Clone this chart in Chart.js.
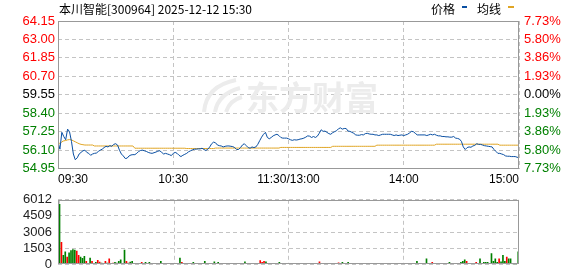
<!DOCTYPE html>
<html>
<head>
<meta charset="utf-8">
<script src="https://cdn.jsdelivr.net/npm/chart.js"></script>
<style>
  html, body { margin: 0; padding: 0; background: #fff; overflow: hidden; }
  #wrap { position: relative; width: 578px; height: 276px; }
  canvas { position: absolute; left: 0; }
</style>
</head>
<body>
<div id="wrap">
  <canvas id="priceChart" width="578" height="191" style="top:0"></canvas>
  <canvas id="volChart" width="578" height="92" style="top:186px"></canvas>
</div>
<script>
const stockTitle = "本川智能[300964] 2025-12-12 15:30";

// minute ticks on the time axis (0 = 09:30, 240 = 15:00)
const timeTicks = [0, 60, 120, 180, 240];
const timeLabels = ["09:30", "10:30", "11:30/13:00", "14:00", "15:00"];

const priceTicks = [54.95, 56.10, 57.25, 58.40, 59.55, 60.70, 61.85, 63.00, 64.15];
const pctLabels = ["7.73%", "5.80%", "3.86%", "1.93%", "0.00%", "1.93%", "3.86%", "5.80%", "7.73%"];
const volTicks = [0, 1503, 3006, 4509, 6012];

const price = [
  56.62, 56.16, 57.21, 56.95, 56.75, 57.41, 57.25, 56.65, 55.86, 55.50,
  55.62, 55.86, 55.96, 56.06, 56.10, 55.96, 55.90, 55.78, 55.86, 55.90,
  55.92, 56.02, 56.10, 56.16, 56.26, 56.34, 56.30, 56.38, 56.34, 56.46,
  56.50, 56.42, 56.10, 55.86, 55.74, 55.58, 55.60, 55.74, 55.80, 55.82,
  55.82, 55.90, 56.02, 56.08, 56.10, 56.06, 56.02, 55.96, 55.92, 55.90,
  55.94, 55.98, 56.04, 56.06, 55.96, 55.86, 55.90, 55.86, 55.82, 55.76,
  55.90, 55.96, 55.90, 55.78, 55.70, 55.78, 55.84, 55.90, 56.00, 56.06,
  56.12, 56.16, 56.16, 56.18, 56.18, 56.22, 56.14, 56.08, 56.16, 56.30,
  56.50, 56.60, 56.56, 56.42, 56.38, 56.36, 56.30, 56.34, 56.36, 56.36,
  56.34, 56.32, 56.26, 56.14, 56.14, 56.26, 56.42, 56.50, 56.38, 56.26,
  56.22, 56.30, 56.26, 56.30, 56.46, 56.69, 56.91, 57.09, 57.21, 56.89,
  56.81, 56.89, 56.99, 57.05, 57.09, 57.01, 56.89, 56.85, 56.85, 56.85,
  56.81, 56.75, 56.71, 56.75, 56.73, 56.75, 56.79, 56.81, 56.85, 56.91,
  56.99, 56.97, 56.89, 56.95, 56.89, 56.97, 57.15, 57.37, 57.27, 57.29,
  57.21, 57.13, 57.09, 57.19, 57.25, 57.31, 57.43, 57.49, 57.41, 57.45,
  57.45, 57.29, 57.27, 57.21, 57.15, 57.05, 57.03, 57.03, 57.07, 57.05,
  57.13, 57.15, 57.11, 57.09, 57.09, 57.05, 57.05, 57.01, 57.05, 57.09,
  57.09, 57.09, 57.09, 57.09, 57.05, 57.01, 57.05, 57.01, 57.03, 57.05,
  57.01, 57.05, 57.09, 57.17, 57.27, 57.25, 57.15, 57.05, 57.05, 57.05,
  57.05, 57.05, 57.01, 57.05, 57.09, 57.05, 57.09, 57.03, 56.99, 56.99,
  56.95, 56.95, 56.93, 56.93, 56.91, 56.91, 56.95, 56.85, 56.83, 56.79,
  56.65, 56.30, 56.14, 56.26, 56.30, 56.28, 56.36, 56.40, 56.50, 56.46,
  56.46, 56.42, 56.38, 56.36, 56.34, 56.32, 56.30, 56.14, 56.02, 55.90,
  55.90, 55.86, 55.82, 55.74, 55.72, 55.72, 55.70, 55.70, 55.70, 55.66,
  55.62
];

const avgPrice = [
  56.62, 56.50, 56.62, 56.68, 56.70, 56.74, 56.76, 56.74, 56.68, 56.62,
  56.56, 56.50, 56.46, 56.44, 56.42, 56.42, 56.42, 56.42, 56.42, 56.36,
  56.36, 56.36, 56.36, 56.36, 56.36, 56.36, 56.36, 56.36, 56.36, 56.36,
  56.36, 56.36, 56.36, 56.36, 56.36, 56.36, 56.36, 56.36, 56.36, 56.36,
  56.22, 56.22, 56.22, 56.22, 56.22, 56.22, 56.22, 56.22, 56.22, 56.22,
  56.22, 56.22, 56.22, 56.22, 56.22, 56.22, 56.22, 56.22, 56.22, 56.22,
  56.22, 56.22, 56.22, 56.22, 56.22, 56.22, 56.22, 56.20, 56.20, 56.20,
  56.20, 56.20, 56.20, 56.20, 56.20, 56.20, 56.20, 56.20, 56.20, 56.20,
  56.20, 56.20, 56.23, 56.23, 56.23, 56.23, 56.23, 56.23, 56.23, 56.23,
  56.23, 56.23, 56.23, 56.23, 56.23, 56.23, 56.23, 56.23, 56.23, 56.23,
  56.23, 56.23, 56.23, 56.23, 56.23, 56.23, 56.23, 56.23, 56.23, 56.23,
  56.23, 56.23, 56.23, 56.23, 56.23, 56.23, 56.27, 56.27, 56.27, 56.27,
  56.27, 56.27, 56.27, 56.27, 56.27, 56.27, 56.27, 56.27, 56.27, 56.27,
  56.27, 56.27, 56.27, 56.27, 56.27, 56.27, 56.27, 56.27, 56.27, 56.27,
  56.27, 56.27, 56.27, 56.34, 56.34, 56.34, 56.34, 56.34, 56.34, 56.34,
  56.34, 56.34, 56.34, 56.34, 56.34, 56.34, 56.34, 56.34, 56.34, 56.34,
  56.34, 56.34, 56.34, 56.34, 56.34, 56.34, 56.41, 56.41, 56.41, 56.41,
  56.41, 56.41, 56.41, 56.41, 56.41, 56.41, 56.41, 56.41, 56.41, 56.41,
  56.41, 56.41, 56.41, 56.41, 56.41, 56.41, 56.41, 56.41, 56.41, 56.41,
  56.41, 56.41, 56.41, 56.41, 56.41, 56.41, 56.41, 56.47, 56.47, 56.47,
  56.47, 56.47, 56.47, 56.47, 56.47, 56.47, 56.47, 56.47, 56.47, 56.47,
  56.47, 56.47, 56.47, 56.47, 56.47, 56.47, 56.47, 56.47, 56.47, 56.47,
  56.47, 56.47, 56.47, 56.47, 56.47, 56.47, 56.47, 56.47, 56.47, 56.47,
  56.41, 56.41, 56.41, 56.41, 56.41, 56.41, 56.41, 56.41, 56.41, 56.41,
  56.41
];

const volume = [
  5600, 2050, 820, 1150, 655, 1065, 1280, 1365, 1310, 1230,
  820, 655, 545, 740, 270, 80, 575, 270, 80, 165,
  355, 190, 110, 80, 270, 110, 490, 80, 110, 165,
  110, 270, 410, 80, 1310, 270, 110, 190, 270, 80,
  60, 60, 80, 165, 60, 165, 80, 165, 60, 60,
  80, 60, 60, 260, 60, 80, 60, 60, 60, 60,
  80, 60, 60, 575, 165, 80, 60, 60, 60, 80,
  165, 60, 60, 60, 60, 80, 260, 60, 60, 60,
  60, 230, 80, 165, 60, 80, 60, 60, 60, 60,
  60, 60, 60, 60, 60, 60, 80, 230, 60, 60,
  60, 60, 60, 60, 80, 330, 165, 260, 230, 60,
  60, 60, 60, 60, 60, 165, 60, 60, 60, 80,
  60, 60, 60, 60, 60, 60, 60, 60, 60, 60,
  60, 60, 60, 60, 60, 60, 220, 60, 60, 80,
  60, 60, 60, 60, 60, 60, 135, 60, 165, 60,
  60, 165, 60, 60, 60, 60, 60, 60, 60, 60,
  60, 60, 60, 60, 60, 60, 60, 60, 60, 60,
  60, 60, 60, 80, 60, 60, 60, 60, 60, 60,
  60, 60, 60, 60, 60, 80, 80, 260, 60, 60,
  60, 60, 490, 60, 60, 165, 60, 60, 60, 60,
  60, 60, 60, 80, 165, 80, 60, 60, 80, 80,
  165, 260, 410, 260, 60, 60, 60, 60, 165, 60,
  490, 80, 165, 165, 165, 60, 980, 260, 490, 165,
  490, 230, 820, 260, 655, 490, 490, 0, 0, 0,
  1150
];

// R = up minute (red), G = down minute (green)
const volumeSide = (
  "GRGGRGGGGR" + "RGGGRGGRRG" + "RRGRRGRGRG" + "GGGRGRRGGR" +
  "RRRRRGRGRR" + "RRRGRRRRRG" + "GGGGRRRRRR" + "GRGRGRGRRR" +
  "RGGGGGGGGG" + "GGGGGGGGRR" + "RRRRRRRRGR" + "RRRRRGGGGG" +
  "GGGGRRRRRR" + "RRRRRRRGGG" + "GGRRRRRGGR" + "RGRRGGGGGG" +
  "GGGGRRRRRR" + "RRRRGGGRRR" + "RRRRRGGGRR" + "RRGRRRGGGG" +
  "GGGGGRGGGG" + "GGGRRRRRRG" + "GGGGGGGGGG" + "RGGGRGGGGG" + "G"
).split("");

const minutes = price.map((_, i) => i);

const RED = "#ff0000";
const GREEN = "#008000";
const GRID = "#c4c4c4";
const tickFont = { family: "'Liberation Sans', Arial, sans-serif", size: 13 };

// solid frame round each plot area
const frame = {
  id: "frame",
  afterDraw(chart) {
    const { ctx, chartArea: a } = chart;
    ctx.save();
    ctx.strokeStyle = "#999";
    ctx.lineWidth = 1;
    ctx.strokeRect(Math.round(a.left) + 0.5, Math.round(a.top) + 0.5,
      Math.round(a.right - a.left) - 1, Math.round(a.bottom - a.top) - 1);
    ctx.restore();
  }
};

const watermark = {
  id: "watermark",
  beforeDatasetsDraw(chart) {
    const ctx = chart.ctx;
    ctx.save();
    ctx.fillStyle = "#ececec";
    ctx.strokeStyle = "#ececec";
    // logo mark
    ctx.lineWidth = 4;
    ctx.beginPath();
    ctx.moveTo(204, 112); ctx.quadraticCurveTo(206, 86, 236, 80);
    ctx.stroke();
    ctx.beginPath();
    ctx.moveTo(215, 112); ctx.quadraticCurveTo(218, 94, 240, 88);
    ctx.stroke();
    ctx.beginPath();
    ctx.moveTo(226, 112); ctx.quadraticCurveTo(230, 100, 242, 97);
    ctx.stroke();
    ctx.font = "bold 33px 'Noto Sans CJK SC'";
    ctx.textBaseline = "middle";
    ctx.fillText("东方财富", 246, 97);
    ctx.restore();
  }
};

const header = {
  id: "header",
  afterDraw(chart) {
    const ctx = chart.ctx;
    const ds = chart.data.datasets;
    ctx.save();
    ctx.font = "12px 'Noto Sans CJK SC'";
    ctx.textBaseline = "middle";
    ctx.fillStyle = "#000";
    ctx.fillText(stockTitle, 59, 9);
    ctx.fillText(ds[0].label, 431, 9);
    ctx.fillText(ds[1].label, 477, 9);
    ctx.fillStyle = ds[0].borderColor;
    ctx.fillRect(462, 6, 5, 2);
    ctx.fillStyle = ds[1].borderColor;
    ctx.fillRect(508, 6, 6, 2);
    ctx.restore();
  }
};

const priceTickColor = (i) => (i < 4 ? GREEN : i > 4 ? RED : "#000");

new Chart(document.getElementById("priceChart"), {
  type: "line",
  data: {
    labels: minutes,
    datasets: [
      { label: "价格", data: price, borderColor: "#0a4fa2", borderWidth: 1, pointRadius: 0, tension: 0 },
      { label: "均线", data: avgPrice, borderColor: "#e0a524", borderWidth: 1, pointRadius: 0, tension: 0 }
    ]
  },
  options: {
    responsive: false,
    animation: false,
    layout: { padding: { top: 21, bottom: 0, left: 0, right: 0 } },
    plugins: { legend: { display: false }, tooltip: { enabled: false } },
    scales: {
      x: {
        type: "linear", min: 0, max: 240, offset: false,
        afterBuildTicks: (s) => { s.ticks = timeTicks.map((v) => ({ value: v })); },
        ticks: {
          align: "inner", maxRotation: 0, autoSkip: false, padding: 4, color: "#000",
          font: { family: "'Liberation Sans', Arial, sans-serif", size: 12 },
          callback: (v) => timeLabels[timeTicks.indexOf(v)]
        },
        grid: { color: GRID, lineWidth: 1, drawTicks: false },
        border: { display: false, dash: [4, 3] }
      },
      y: {
        position: "left", min: 54.95, max: 64.15,
        afterBuildTicks: (s) => { s.ticks = priceTicks.map((v) => ({ value: v })); },
        afterFit: (s) => { s.width = 58; },
        ticks: {
          padding: 3, font: tickFont, autoSkip: false,
          color: (c) => priceTickColor(c.index),
          callback: (v) => v.toFixed(2)
        },
        grid: { color: GRID, lineWidth: 1, drawTicks: false },
        border: { display: false, dash: [4, 3] }
      },
      y2: {
        position: "right", min: 54.95, max: 64.15,
        afterBuildTicks: (s) => { s.ticks = priceTicks.map((v) => ({ value: v })); },
        afterFit: (s) => { s.width = 59; },
        ticks: {
          padding: 5, font: tickFont, autoSkip: false,
          color: (c) => priceTickColor(c.index),
          callback: (v, i) => pctLabels[i]
        },
        grid: { display: false, drawTicks: false },
        border: { display: false }
      }
    }
  },
  plugins: [watermark, frame, header]
});

new Chart(document.getElementById("volChart"), {
  type: "bar",
  data: {
    labels: minutes,
    datasets: [{
      label: "成交量",
      data: volume,
      backgroundColor: volumeSide.map((s) => (s === "R" ? RED : GREEN)),
      barThickness: 1
    }]
  },
  options: {
    responsive: false,
    animation: false,
    layout: { padding: { top: 11, bottom: 0, left: 0, right: 59 } },
    plugins: { legend: { display: false }, tooltip: { enabled: false } },
    scales: {
      x: {
        type: "linear", min: -0.8, max: 240.4, offset: false,
        afterBuildTicks: (s) => { s.ticks = timeTicks.map((v) => ({ value: v })); },
        ticks: { display: false },
        grid: { color: GRID, lineWidth: 1, drawTicks: false, offset: false },
        border: { display: false, dash: [4, 3] }
      },
      y: {
        min: 0, max: 6012,
        afterBuildTicks: (s) => { s.ticks = volTicks.map((v) => ({ value: v })); },
        afterFit: (s) => { s.width = 58; },
        ticks: { padding: 6, font: tickFont, autoSkip: false, color: "#222", callback: (v) => String(v) },
        grid: { color: GRID, lineWidth: 1, drawTicks: false },
        border: { display: false, dash: [4, 3] }
      }
    }
  },
  plugins: [frame]
});
</script>
</body>
</html>
